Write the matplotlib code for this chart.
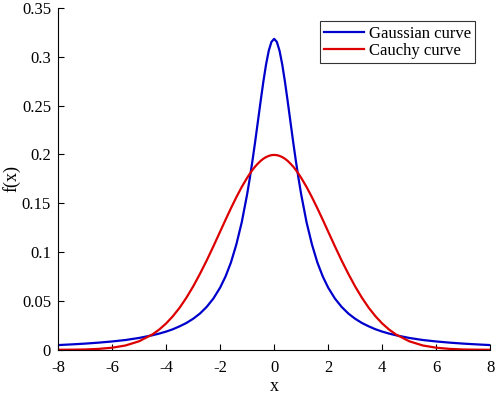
import numpy as np
import matplotlib
matplotlib.use('Agg')
import matplotlib.pyplot as plt

plt.rcParams['font.family'] = ['Liberation Serif', 'DejaVu Serif']
plt.rcParams['axes.unicode_minus'] = False

# values (right half, mirrored about x = 0)
x_half = [0, 0.1, 0.2, 0.3, 0.4, 0.5, 0.6, 0.7, 0.8, 0.9, 1.0, 1.2, 1.4, 1.6, 1.8, 2.0,
          2.25, 2.5, 2.75, 3, 3.25, 3.5, 3.75, 4, 4.25, 4.5, 5, 5.5, 6, 6.5, 7, 7.5, 8]
gauss_half = [0.3183, 0.3152, 0.3061, 0.2920, 0.2744, 0.2546, 0.2341, 0.2136, 0.1941,
              0.1759, 0.1592, 0.1305, 0.1078, 0.0894, 0.0751, 0.0637, 0.0525, 0.0439,
              0.0371, 0.0318, 0.0275, 0.0241, 0.0211, 0.0187, 0.0167, 0.0150, 0.0122,
              0.0101, 0.0086, 0.0074, 0.0064, 0.0056, 0.0049]
cauchy_half = [0.1995, 0.1993, 0.1985, 0.1973, 0.1956, 0.1934, 0.1907, 0.1877, 0.1842,
               0.1803, 0.1761, 0.1667, 0.1562, 0.1449, 0.1331, 0.1210, 0.1059, 0.0913,
               0.0776, 0.0648, 0.0533, 0.0431, 0.0344, 0.0270, 0.0209, 0.0159, 0.0088,
               0.0045, 0.0022, 0.0010, 0.0004, 0.0002, 0.0001]
x = [-v for v in x_half[::-1]] + x_half[1:]
gauss_y = gauss_half[::-1] + gauss_half[1:]
cauchy_y = cauchy_half[::-1] + cauchy_half[1:]

fig = plt.figure(figsize=(4.98, 3.94), dpi=100)
ax = fig.add_axes([0.1165, 0.112, 0.868, 0.868])
ax.plot(x, gauss_y, color='#0000cc', lw=1.6, label='Gaussian curve')
ax.plot(x, cauchy_y, color='#dd0000', lw=1.6, label='Cauchy curve')
ax.set_xlim(-8, 8)
ax.set_ylim(0, 0.35)
ax.set_xticks(range(-8, 9, 2))
ax.set_yticks([0, 0.05, 0.1, 0.15, 0.2, 0.25, 0.3, 0.35])
ax.set_yticklabels(['0', '0.05', '0.1', '0.15', '0.2', '0.25', '0.3', '0.35'])
ax.spines['top'].set_visible(False)
ax.spines['right'].set_visible(False)
ax.tick_params(direction='in', labelsize=12, length=4)
ax.tick_params(axis='x', pad=7)
ax.tick_params(axis='y', pad=5)
ax.set_xlabel('x', fontsize=13, labelpad=2)
ax.set_ylabel('f(x)', fontsize=13, labelpad=1)
leg = ax.legend(loc='upper right', bbox_to_anchor=(0.985, 0.985), fontsize=12,
                frameon=True, fancybox=False, edgecolor='black', handlelength=2.4,
                borderpad=0.25, labelspacing=0.1, handletextpad=0.3)
leg.get_frame().set_linewidth(0.8)
fig.savefig('out.png', dpi=100)
